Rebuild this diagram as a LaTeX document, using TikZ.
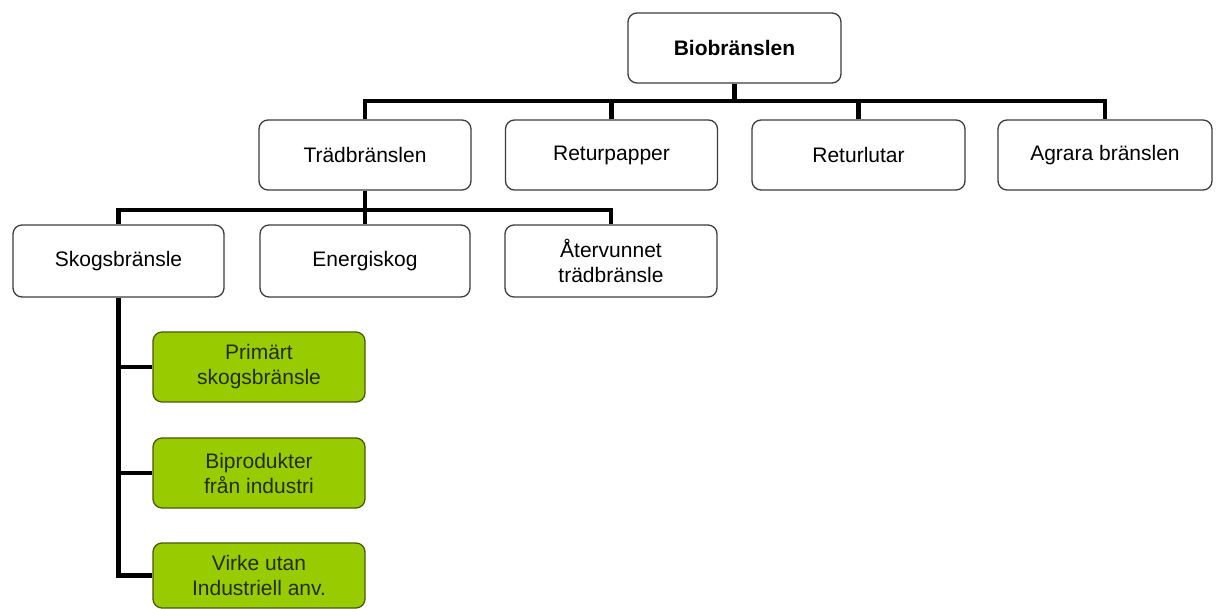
\documentclass[tikz,border=0pt]{standalone}
\usepackage{fontspec}
\setmainfont{Liberation Sans}
\definecolor{leaf}{RGB}{153,204,0}
\definecolor{leafline}{RGB}{70,90,10}
\definecolor{leaftext}{RGB}{35,45,0}
\definecolor{boxline}{RGB}{60,60,60}
\begin{document}
\begin{tikzpicture}[x=1pt,y=-1pt,
  box/.style={draw=boxline,line width=1.3pt,rounded corners=9pt,fill=white,
    minimum width=212pt,minimum height=70pt,inner sep=0pt,align=center,
    font=\fontsize{21}{25}\selectfont},
  leafbox/.style={box,fill=leaf,draw=leafline,text=leaftext},
  conn/.style={line width=4.5pt,black,line join=miter}]
\useasboundingbox[fill=white] (0,0) rectangle (1216,609);
% nodes
\node[box,minimum width=213pt,font=\fontsize{21}{25}\selectfont\bfseries] (bio) at (734.5,48) {Biobränslen};
\node[box] (tra) at (365,155) {Trädbränslen};
\node[box] (ret) at (611.5,155) {Returpapper};
\node[box,minimum width=213pt] (rel) at (858.5,155) {Returlutar};
\node[box,minimum width=214pt] (agr) at (1105,155) {Agrara bränslen};
\node[box,minimum width=211pt,minimum height=72pt] (sko) at (118.5,261) {Skogsbränsle};
\node[box,minimum width=210pt,minimum height=72pt] (ene) at (365,261) {Energiskog};
\node[box,minimum height=72pt] (atv) at (611,261) {Återvunnet\\trädbränsle};
\node[leafbox] (pri) at (259,367) {Primärt\\skogsbränsle};
\node[leafbox] (bip) at (259,473) {Biprodukter\\från industri};
\node[leafbox,minimum height=65pt] (vir) at (259,575.5) {Virke utan\\Industriell anv.};
% buses
\coordinate (b1) at (0,101);
\coordinate (b2) at (0,210);
% level 1
\draw[conn] (tra.north) -- (tra.north |- b1) -- (agr.north |- b1) -- (agr.north);
\draw[conn] (bio.south) -- (bio.south |- b1);
\draw[conn] (ret.north) -- (ret.north |- b1);
\draw[conn] (rel.north) -- (rel.north |- b1);
% level 2
\draw[conn] (sko.north) -- (sko.north |- b2) -- (atv.north |- b2) -- (atv.north);
\draw[conn] (tra.south) -- (ene.north);
% level 3
\draw[conn] (sko.south) -- (sko.south |- vir.west) -- (vir.west);
\draw[conn] (sko.south |- pri.west) -- (pri.west);
\draw[conn] (sko.south |- bip.west) -- (bip.west);
\end{tikzpicture}
\end{document}
